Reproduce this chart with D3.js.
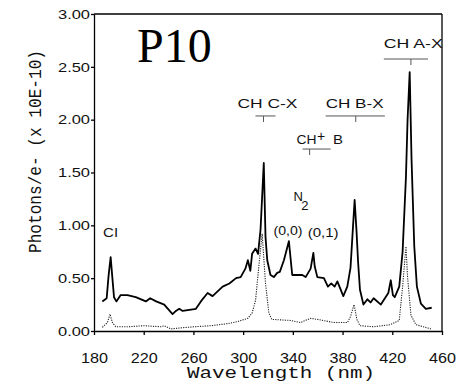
<!DOCTYPE html>
<html>
<head>
<meta charset="utf-8">
<script src="https://cdn.jsdelivr.net/npm/d3@7"></script>
<style>
  body { margin: 0; background: #fff; }
  svg { display: block; }
</style>
</head>
<body>
<svg id="chart"></svg>
<script>
// spectrum, solid trace (wavelength nm / photons per e- x 1e-10)
const solidWl = [186.7, 190.2, 191.7, 193.4, 194.8, 196.1, 198, 201.5, 206.9, 213.6, 221.7, 225.2, 230, 236.5,
  243.2, 245.9, 248.6, 251.3, 256.7, 262, 266, 271.4, 275.4, 283.5, 288.9, 294.3, 298, 301.8, 303.8, 305.8,
  307.2, 310, 312, 314, 316.6, 318, 319.4, 322, 324.7, 327.4, 329.5, 332.8, 336.8, 339.5, 347.6, 350.3, 354.3,
  356.5, 357.6, 359.7, 365, 368.2, 370.9, 373.6, 375.8, 380.6, 383.8, 386.4, 388.2, 389.7, 391.2, 392.5, 394,
  396.8, 400, 402.5, 405, 410.8, 416.8, 418.8, 420.5, 422, 425.6, 428.3, 431, 432.3, 434, 435.5, 437.7, 439.8,
  443, 447, 451.7];
const solidVal = [0.28, 0.31, 0.52, 0.70, 0.50, 0.32, 0.28, 0.34, 0.34, 0.32, 0.28, 0.31, 0.28, 0.25,
  0.16, 0.19, 0.21, 0.19, 0.20, 0.21, 0.28, 0.36, 0.33, 0.42, 0.45, 0.50, 0.51, 0.59, 0.67, 0.57,
  0.73, 0.78, 0.73, 0.96, 1.59, 0.89, 0.67, 0.53, 0.51, 0.55, 0.56, 0.67, 0.85, 0.53, 0.53, 0.51, 0.59,
  0.74, 0.61, 0.51, 0.50, 0.42, 0.45, 0.42, 0.47, 0.33, 0.42, 0.60, 0.95, 1.24, 0.95, 0.65, 0.39,
  0.25, 0.30, 0.27, 0.31, 0.25, 0.36, 0.48, 0.34, 0.32, 0.42, 0.75, 1.46, 2.00, 2.45, 1.62, 0.80, 0.42,
  0.26, 0.21, 0.22];

// dotted trace
const dottedWl = [186.7, 190.8, 192.9, 194.8, 197.5, 206.9, 220.3, 233.8, 236.5, 241.9, 250, 260.7, 274.2,
  287.6, 295.7, 303.8, 307.2, 310, 312.6, 315.3, 318, 320.7, 323, 338, 346, 354.3, 359.7, 373, 384, 386.5,
  389.2, 391.5, 394, 405, 418.5, 425.6, 428.3, 431, 432.3, 435, 439, 451];
const dottedVal = [0.035, 0.08, 0.16, 0.08, 0.04, 0.04, 0.05, 0.04, 0.05, 0.02, 0.03, 0.04, 0.05,
  0.07, 0.09, 0.12, 0.17, 0.29, 0.61, 0.92, 0.45, 0.17, 0.11, 0.10, 0.08, 0.12, 0.11, 0.08, 0.08, 0.14,
  0.25, 0.11, 0.05, 0.04, 0.06, 0.10, 0.42, 0.80, 0.51, 0.15, 0.06, 0.02];

const xTicks = [180, 220, 260, 300, 340, 380, 420, 460];
const yTicks = [0, 0.5, 1, 1.5, 2, 2.5, 3];

// band labels, placed in data units
const notes = [
  { text: 'CI', wl: 187.3, val: 0.89, len: 15 },
  { text: 'CH  C-X', wl: 295.4, val: 2.11, len: 60 },
  { text: 'CH  B-X', wl: 366.4, val: 2.11, len: 58 },
  { text: 'CH  A-X', wl: 413.2, val: 2.68, len: 59 },
  { text: '(0,0)', wl: 324.4, val: 0.905, len: 29 },
  { text: '(0,1)', wl: 351.9, val: 0.89, len: 31 }
];
const brackets = [
  { from: 309.9, to: 326.0, mid: 316.4, val: 2.035 },
  { from: 366.4, to: 414.0, mid: 390.6, val: 2.035 },
  { from: 413.2, to: 448.7, mid: 435.0, val: 2.574 },
  { from: 347.8, to: 370.4, mid: 353.5, val: 1.722 }
];

const width = 458, height = 382;
const sans = "'Liberation Sans', Arial, sans-serif";
const mono = "'Liberation Mono', 'Courier New', monospace";

const svg = d3.select('#chart')
  .attr('width', width)
  .attr('height', height);

const x = d3.scaleLinear().domain([180, 460]).range([94, 442]);
const y = d3.scaleLinear().domain([0, 3]).range([331, 14]);

// axes
const xAxis = svg.append('g')
  .attr('transform', 'translate(0,' + y(0) + ')')
  .call(d3.axisBottom(x).tickValues(xTicks).tickSize(4).tickPadding(18)
    .tickSizeOuter(0).tickFormat(d3.format('d')));
xAxis.selectAll('text')
  .attr('font-family', sans).attr('font-size', 14).attr('fill', '#111')
  .attr('textLength', 27).attr('lengthAdjust', 'spacingAndGlyphs');

const yAxis = svg.append('g')
  .attr('transform', 'translate(' + x(180) + ',0)')
  .call(d3.axisLeft(y).tickValues(yTicks).tickSize(3).tickPadding(1)
    .tickSizeOuter(0).tickFormat(d3.format('.2f')));
yAxis.selectAll('text')
  .attr('font-family', sans).attr('font-size', 13.5).attr('fill', '#111')
  .attr('textLength', 32).attr('lengthAdjust', 'spacingAndGlyphs');

svg.selectAll('.domain, .tick line').attr('stroke', '#000').attr('stroke-width', 1.3);

// top and right edges of the box
svg.append('line')
  .attr('x1', x(180)).attr('x2', x(460)).attr('y1', y(3)).attr('y2', y(3))
  .attr('stroke', '#000').attr('stroke-width', 1.3);
svg.append('line')
  .attr('x1', x(460)).attr('x2', x(460)).attr('y1', y(3)).attr('y2', y(0))
  .attr('stroke', '#000').attr('stroke-width', 1.3);

// traces
const line = d3.line().x(d => x(d[0])).y(d => y(d[1]));

svg.append('path')
  .datum(d3.zip(dottedWl, dottedVal))
  .attr('d', line)
  .attr('fill', 'none')
  .attr('stroke', '#222')
  .attr('stroke-width', 1.1)
  .attr('stroke-dasharray', '1.2,1.2');

svg.append('path')
  .datum(d3.zip(solidWl, solidVal))
  .attr('d', line)
  .attr('fill', 'none')
  .attr('stroke', '#000')
  .attr('stroke-width', 1.8)
  .attr('stroke-linejoin', 'round');

// axis titles
svg.append('text')
  .attr('transform', 'translate(41,151.5) rotate(-90)')
  .attr('text-anchor', 'middle')
  .attr('font-family', mono).attr('font-size', 18).attr('fill', '#111')
  .attr('textLength', 203).attr('lengthAdjust', 'spacingAndGlyphs')
  .text('Photons/e- (x 10E-10)');

svg.append('text')
  .attr('x', 187).attr('y', 378)
  .attr('font-family', mono).attr('font-size', 16).attr('fill', '#111')
  .attr('textLength', 188).attr('lengthAdjust', 'spacingAndGlyphs')
  .text('Wavelength (nm)');

svg.append('text')
  .attr('x', 137).attr('y', 62)
  .attr('font-family', "'Liberation Serif', 'Times New Roman', serif")
  .attr('font-size', 48).attr('fill', '#000')
  .text('P10');

// band labels
svg.selectAll('text.note')
  .data(notes)
  .join('text')
  .attr('class', 'note')
  .attr('x', d => x(d.wl)).attr('y', d => y(d.val))
  .attr('font-family', sans).attr('font-size', 12.5).attr('fill', '#111')
  .attr('textLength', d => d.len).attr('lengthAdjust', 'spacingAndGlyphs')
  .text(d => d.text);

// CH+ B
const chPlus = svg.append('g').attr('font-family', sans).attr('fill', '#111');
chPlus.append('text').attr('x', x(343.0)).attr('y', y(1.77))
  .attr('font-size', 12.5).attr('textLength', 20).attr('lengthAdjust', 'spacingAndGlyphs').text('CH');
chPlus.append('text').attr('x', x(359.4)).attr('y', y(1.795))
  .attr('font-size', 14).text('+');
chPlus.append('text').attr('x', x(372.3)).attr('y', y(1.77))
  .attr('font-size', 12.5).attr('textLength', 10).attr('lengthAdjust', 'spacingAndGlyphs').text('B');

// N2
const n2 = svg.append('g').attr('font-family', sans).attr('fill', '#111');
n2.append('text').attr('x', x(340.6)).attr('y', y(1.23)).attr('font-size', 13).text('N');
n2.append('text').attr('x', x(346.8)).attr('y', y(1.145)).attr('font-size', 13).text('2');

// bracket markers
const br = svg.selectAll('g.bracket')
  .data(brackets)
  .join('g')
  .attr('class', 'bracket')
  .attr('stroke', '#555')
  .attr('stroke-width', 1);
br.append('line')
  .attr('x1', d => x(d.from)).attr('x2', d => x(d.to))
  .attr('y1', d => y(d.val)).attr('y2', d => y(d.val));
br.append('line')
  .attr('x1', d => x(d.mid)).attr('x2', d => x(d.mid))
  .attr('y1', d => y(d.val)).attr('y2', d => y(d.val) + 6);
</script>
</body>
</html>
